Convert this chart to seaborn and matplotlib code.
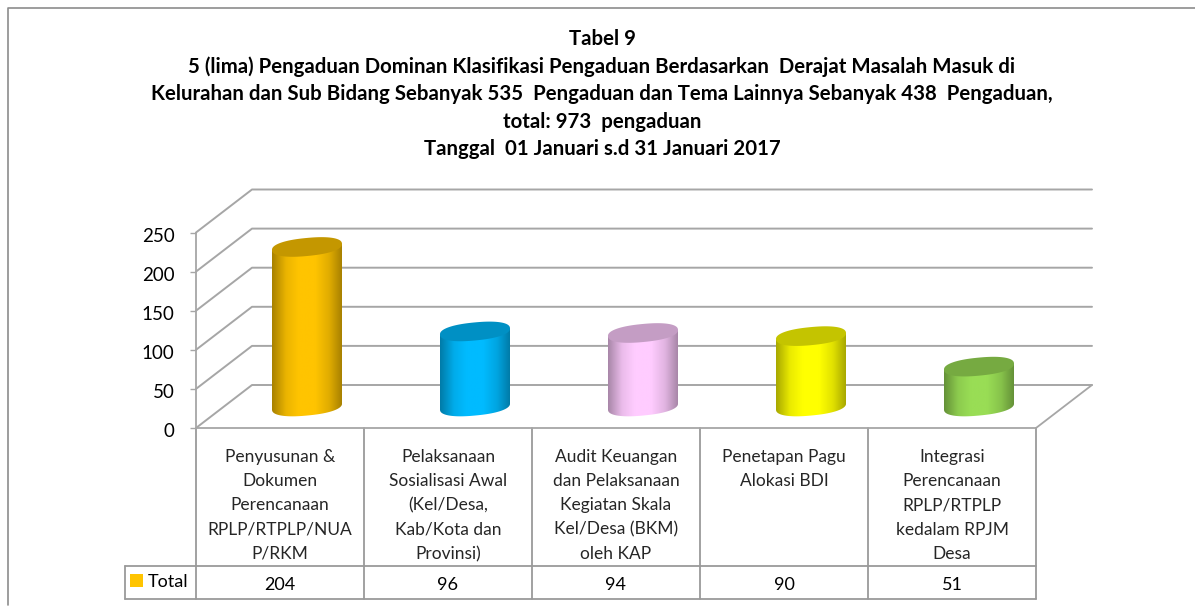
import numpy as np
import matplotlib
matplotlib.use("Agg")
import matplotlib.pyplot as plt
import seaborn as sns
from matplotlib.colors import LinearSegmentedColormap, to_rgb
from matplotlib.lines import Line2D
from matplotlib.patches import Polygon
from matplotlib.transforms import Affine2D, IdentityTransform, blended_transform_factory

categories = [
    "Penyusunan &\nDokumen\nPerencanaan\nRPLP/RTPLP/NUA\nP/RKM",
    "Pelaksanaan\nSosialisasi Awal\n(Kel/Desa,\nKab/Kota dan\nProvinsi)",
    "Audit Keuangan\ndan Pelaksanaan\nKegiatan Skala\nKel/Desa (BKM)\noleh KAP",
    "Penetapan Pagu\nAlokasi BDI",
    "Integrasi\nPerencanaan\nRPLP/RTPLP\nkedalam RPJM\nDesa",
]
values = [204, 96, 94, 90, 51]
bar_colors = ["#FFC400", "#00BBFF", "#FFCCFF", "#FFFF00", "#99DD55"]
y_ticks = [0, 50, 100, 150, 200, 250]
series_name = "Total"
title = (
    "Tabel 9\n"
    "5 (lima) Pengaduan Dominan Klasifikasi Pengaduan Berdasarkan  Derajat Masalah Masuk di\n"
    "Kelurahan dan Sub Bidang Sebanyak 535  Pengaduan dan Tema Lainnya Sebanyak 438  Pengaduan,\n"
    "total: 973  pengaduan\n"
    "Tanggal  01 Januari s.d 31 Januari 2017"
)

W, H = 1195, 606
GRID = "#A6A6A6"
DX, DY = 56, 43  # depth of the 3D floor, pixels

sns.set_theme(style="white")
plt.rcParams["font.family"] = ["Lato", "DejaVu Sans"]

fig = plt.figure(figsize=(W / 100, H / 100), dpi=100)
# axes box is the front face of the 3D chart
ax = fig.add_axes([196 / W, 1 - 428 / H, 840 / W, 195.5 / H])

sns.barplot(
    x=categories, y=values, hue=categories, palette=bar_colors,
    width=70 / 168, legend=False, ax=ax,
)
ax.set_xlim(-0.5, 4.5)
ax.set_ylim(0, 250)

# pixel coordinates measured from the top left of the picture
px = Affine2D().scale(1, -1).translate(0, H)


def line(xs, ys, color=GRID, lw=1.3):
    ax.add_artist(Line2D(xs, ys, color=color, lw=lw, transform=px, clip_on=False, zorder=1))


def cap(cx, cy, w, h=18, angle=5.5, n=2.3, t0=0, t1=2 * np.pi):
    # slightly squared, tilted ellipse in display coordinates
    t = np.linspace(t0, t1, 80)
    u = w / 2 * np.sign(np.cos(t)) * np.abs(np.cos(t)) ** (2 / n)
    v = h / 2 * np.sign(np.sin(t)) * np.abs(np.sin(t)) ** (2 / n)
    a = np.radians(angle)
    # keep the total width equal to the bar width after the tilt
    u = u / np.cos(a)
    return np.column_stack([cx + u * np.cos(a) - v * np.sin(a), cy + u * np.sin(a) + v * np.cos(a)])


# outer frame, open at the bottom and right
line([8, 8, W], [605, 8, 8], color="#8C8C8C", lw=1.2)

# back wall gridlines and the slanted side wall
for t in y_ticks:
    fy = H - ax.transData.transform((0, t))[1]
    line([196, 196 + DX, 1036 + DX], [fy, fy - DY, fy - DY], lw=1.4)
line([1036, 1036 + DX], [428, 428 - DY])

# cylinders, built from the seaborn bars
for patch, color in zip(list(ax.patches), bar_colors):
    x0, y0 = ax.transData.transform((patch.get_x(), 0))
    x1, y1 = ax.transData.transform((patch.get_x() + patch.get_width(), patch.get_height()))
    x0, x1 = x0 + DX / 2 - 1, x1 + DX / 2 - 1
    y0, y1 = y0 + DY / 2, y1 + DY / 2
    patch.set_visible(False)

    rgb = np.array(to_rgb(color))
    cmap = LinearSegmentedColormap.from_list(
        "cyl",
        [(0, rgb * 0.66), (0.2, rgb * 0.92), (0.38, rgb), (0.62, rgb), (0.82, rgb * 0.88), (1, rgb * 0.66)],
    )
    cx = (x0 + x1) / 2
    w = x1 - x0
    # body: lower half of the base, then straight up to the top cap ends
    lower = cap(cx, y0, w, t0=np.pi, t1=2 * np.pi)
    top_ends = cap(cx, y1, w, t0=0, t1=np.pi)[[0, -1]]
    clip = Polygon(np.vstack([lower, top_ends]), closed=True, transform=IdentityTransform(), fc="none", ec="none")
    ax.add_patch(clip)
    im = ax.imshow(
        np.linspace(0, 1, 128)[None, :], cmap=cmap, aspect="auto",
        extent=(x0, x1, y0 - 14, y1 + 8), transform=IdentityTransform(), zorder=2,
    )
    im.set_clip_path(clip)
    ax.add_patch(Polygon(
        cap(cx, y1, w), closed=True, transform=IdentityTransform(),
        fc=rgb * 0.77, ec="none", zorder=3, clip_on=False,
    ))
ax.set_xlim(-0.5, 4.5)
ax.set_ylim(0, 250)

# axes
ax.set_yticks(y_ticks)
ax.tick_params(axis="y", length=4.5, width=1, color=GRID, pad=11, labelsize=13.5, labelcolor="black", left=True)
ax.tick_params(axis="x", length=0, pad=15, labelsize=12.5)
ax.set_xticks(range(len(categories)))
ax.set_xticklabels(categories, linespacing=1.635)
for lab in ax.get_yticklabels():
    lab.set_transform(lab.get_transform() + Affine2D().translate(0, -2))
for side in ["top", "right"]:
    ax.spines[side].set_visible(False)
for side in ["left", "bottom"]:
    ax.spines[side].set_color(GRID)
    ax.spines[side].set_linewidth(1.3)

# data table under the chart
edges = [196 + 168 * i for i in range(6)]
for x in edges:
    line([x, x], [428, 599], color="#9A9A9A")
line([125, 1036], [566, 566], color="#9A9A9A")
line([125, 1036], [599, 599], color="#9A9A9A")
line([125, 125], [566, 599], color="#9A9A9A")
col_x = blended_transform_factory(ax.transData, px)
for i, v in enumerate(values):
    ax.text(i, 585, str(v), transform=col_x, ha="center", va="center", fontsize=13, color="black", clip_on=False)
ax.add_artist(Polygon(
    [[130, 574], [143, 574], [143, 587], [130, 587]], closed=True,
    fc=bar_colors[0], ec="none", transform=px, clip_on=False,
))
ax.text(148, 582, series_name, transform=px, ha="left", va="center", fontsize=13, color="black")

ax.text(
    602, 94, title, transform=px, ha="center", va="center", fontsize=14.7,
    fontweight="bold", color="black", linespacing=1.45, multialignment="center",
)

fig.savefig("out.png", dpi=100)
plt.close(fig)
